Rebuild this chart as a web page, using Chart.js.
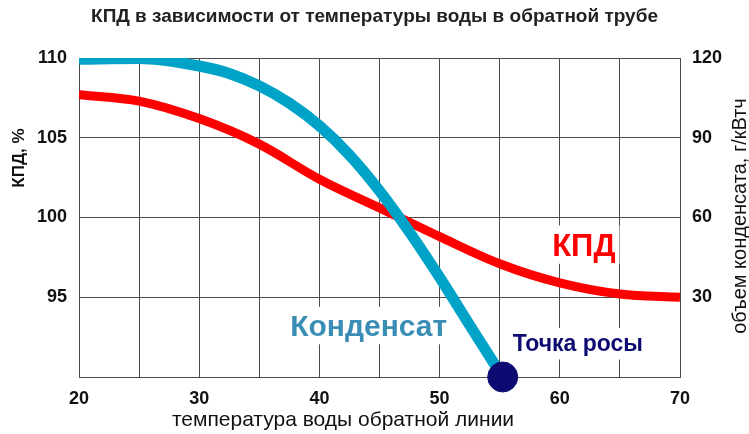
<!DOCTYPE html>
<html lang="ru">
<head>
    <meta charset="UTF-8">
    <title>КПД в зависимости от температуры воды</title>
    <style>
        body {
            margin: 0;
            padding: 0;
            background: #fff;
        }
        #chart {
            display: block;
        }
    </style>
    <script src="https://cdn.jsdelivr.net/npm/chart.js"></script>
</head>
<body>
    <canvas id="chart" width="749" height="434"></canvas>

    <script>
        // Data
        const titleText = 'КПД в зависимости от температуры воды в обратной трубе';
        const xTitle = 'температура воды обратной линии';
        const yLeftTitle = 'КПД, %';
        const yRightTitle = 'объем конденсата, г/кВтч';

        // КПД, % (left axis)
        const kpdTemps = [20, 25, 30, 35, 40, 45, 50, 55, 60, 65, 70];
        const kpdValues = [107.7, 107.3, 106.2, 104.6, 102.4, 100.6, 98.8, 97.1, 95.9, 95.2, 95.0];

        // condensate, g/kWh (right axis)
        const condTemps = [20, 25, 30, 32.5, 35, 37.5, 40, 42.5, 45, 47.5, 50, 52.5, 55.25];
        const condValues = [119.5, 119.8, 117, 114.2, 109.5, 103, 94.5, 83.5, 70, 54.5, 37.5, 19.5, 0];

        // dew point
        const dewTemp = [55.25];
        const dewValue = [0];

        // text labels inside the plot: [text, x, y(left axis), colour, font]
        const plotLabels = [
            ['КПД', 62.0, 97.6, '#ff0000', 'bold 31px Arial'],
            ['Конденсат', 44.1, 92.55, '#3a8db4', 'bold 30px Arial'],
            ['Точка росы', 61.5, 91.6, '#0d0b72', 'bold 23px Arial']
        ];

        const toPoints = (xs, ys) => xs.map((x, i) => ({ x: x, y: ys[i] }));

        const gridColor = '#4a4a4a';

        // white boxes behind the labels (break the grid like the original)
        const labelBoxes = {
            id: 'labelBoxes',
            beforeDatasetsDraw(chart) {
                const ctx = chart.ctx;
                const xs = chart.scales.x, ys = chart.scales.y;
                ctx.save();
                plotLabels.forEach(l => {
                    ctx.font = l[4];
                    const w = ctx.measureText(l[0]).width;
                    const px = xs.getPixelForValue(l[1]);
                    const py = ys.getPixelForValue(l[2]);
                    const size = parseInt(l[4].match(/(\d+)px/)[1]);
                    ctx.fillStyle = '#fff';
                    ctx.fillRect(px - w / 2 - 4, py - size * 0.85 - 4, w + 8, size * 0.85 + 12);
                });
                ctx.restore();
            },
            afterDraw(chart) {
                const ctx = chart.ctx;
                const xs = chart.scales.x, ys = chart.scales.y;
                ctx.save();
                plotLabels.forEach(l => {
                    ctx.font = l[4];
                    ctx.fillStyle = l[3];
                    ctx.textAlign = 'center';
                    ctx.textBaseline = 'alphabetic';
                    ctx.fillText(l[0], xs.getPixelForValue(l[1]), ys.getPixelForValue(l[2]));
                });

                // title
                ctx.fillStyle = '#222';
                ctx.textBaseline = 'middle';
                ctx.font = 'bold 19px Arial';
                ctx.fillText(titleText, chart.width / 2, 17);

                // x axis title
                ctx.font = '21px Arial';
                ctx.fillStyle = '#111';
                ctx.fillText(xTitle, 343, 420);

                // left axis title
                ctx.save();
                ctx.translate(19, 158);
                ctx.rotate(-Math.PI / 2);
                ctx.font = 'bold 17px Arial';
                ctx.fillText(yLeftTitle, 0, 0);
                ctx.restore();

                // right axis title (reads bottom to top)
                ctx.save();
                ctx.translate(740, 216);
                ctx.rotate(-Math.PI / 2);
                ctx.font = '20px Arial';
                ctx.fillText(yRightTitle, 0, 0);
                ctx.restore();

                ctx.restore();
            }
        };

        const tickFont = { family: 'Arial', size: 18, weight: 'bold' };

        new Chart(document.getElementById('chart'), {
            type: 'line',
            data: {
                datasets: [
                    {
                        label: 'Точка росы',
                        type: 'scatter',
                        data: toPoints(dewTemp, dewValue),
                        yAxisID: 'y1',
                        backgroundColor: '#0d0b72',
                        borderColor: '#0d0b72',
                        pointRadius: 15,
                        clip: false,
                        order: 0
                    },
                    {
                        label: 'Конденсат',
                        data: toPoints(condTemps, condValues),
                        yAxisID: 'y1',
                        borderColor: '#00a3c8',
                        borderWidth: 11,
                        pointRadius: 0,
                        cubicInterpolationMode: 'monotone',
                        borderCapStyle: 'butt',
                        order: 1
                    },
                    {
                        label: 'КПД',
                        data: toPoints(kpdTemps, kpdValues),
                        yAxisID: 'y',
                        borderColor: '#ff0000',
                        borderWidth: 9,
                        pointRadius: 0,
                        cubicInterpolationMode: 'monotone',
                        order: 2
                    }
                ]
            },
            options: {
                responsive: false,
                devicePixelRatio: 1,
                animation: false,
                layout: { padding: { top: 58, left: 0, right: 0, bottom: 0 } },
                plugins: {
                    legend: { display: false },
                    tooltip: { enabled: false },
                    title: { display: false }
                },
                scales: {
                    x: {
                        type: 'linear',
                        min: 20,
                        max: 70,
                        afterFit: s => { s.height = 57; },
                        grid: { color: gridColor, lineWidth: 1, drawTicks: false },
                        border: { color: gridColor, width: 1 },
                        ticks: {
                            stepSize: 5,
                            autoSkip: false,
                            maxRotation: 0,
                            padding: 11,
                            color: '#111',
                            font: tickFont,
                            callback: v => (v % 10 === 0 ? v : '')
                        }
                    },
                    y: {
                        position: 'left',
                        min: 90,
                        max: 110,
                        afterFit: s => { s.width = 79; },
                        grid: { color: gridColor, lineWidth: 1, drawTicks: false },
                        border: { color: gridColor, width: 1 },
                        ticks: {
                            stepSize: 5,
                            padding: 12,
                            color: '#111',
                            font: tickFont,
                            callback: v => (v === 90 ? '' : v)
                        }
                    },
                    y1: {
                        position: 'right',
                        min: 0,
                        max: 120,
                        afterFit: s => { s.width = 69; },
                        grid: { drawOnChartArea: false, drawTicks: false },
                        border: { color: gridColor, width: 1 },
                        ticks: {
                            stepSize: 30,
                            padding: 12,
                            color: '#111',
                            font: tickFont,
                            callback: v => (v === 0 ? '' : v)
                        }
                    }
                }
            },
            plugins: [labelBoxes]
        });
    </script>
</body>
</html>
